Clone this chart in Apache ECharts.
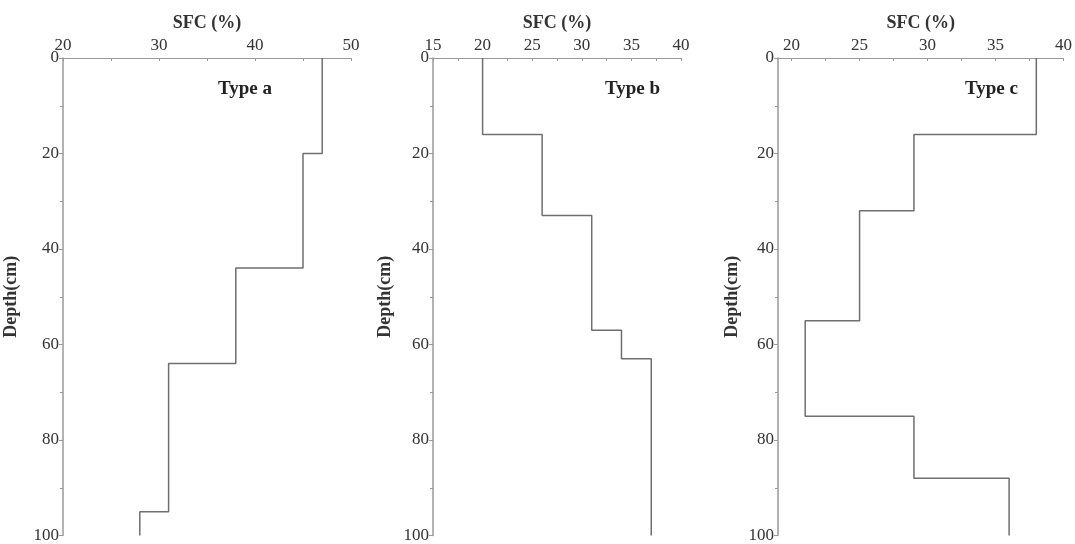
<!DOCTYPE html>
<html>
<head>
<meta charset="utf-8">
<script src="https://cdn.jsdelivr.net/npm/echarts@6/dist/echarts.min.js"></script>
<style>
  html, body { margin: 0; padding: 0; background: #fff; }
  #chart { width: 1075px; height: 544px; }
</style>
</head>
<body>
<div id="chart"></div>
<script>
// soil layers: [top depth, bottom depth] and SFC value (%) of each layer
var layersA = [[0, 20], [20, 44], [44, 64], [64, 95], [95, 100]];
var sfcA = [47, 45, 38, 31, 28];

var layersB = [[0, 16], [16, 33], [33, 57], [57, 63], [63, 100]];
var sfcB = [20, 26, 31, 34, 37];

var layersC = [[0, 16], [16, 32], [32, 55], [55, 75], [75, 88], [88, 100]];
var sfcC = [38, 29, 25, 21, 29, 36];

var panelNames = ['Type a', 'Type b', 'Type c'];
var depthTicks = [0, 20, 40, 60, 80, 100];
var xMins = [20, 15, 19];
var xMaxs = [50, 40, 40];
var xLabelVals = [[20, 30, 40, 50], [15, 20, 25, 30, 35, 40], [20, 25, 30, 35, 40]];
var xTickVals = [
    [20, 25, 30, 35, 40, 45, 50],
    [15, 17.5, 20, 22.5, 25, 27.5, 30, 32.5, 35, 37.5, 40],
    [20, 22.5, 25, 27.5, 30, 32.5, 35, 37.5, 40]
];

var font = 'Liberation Serif';
var axisColor = '#999';
var textColor = '#333';

// turn layers into a profile line (vertical segment per layer)
function profile(layers, vals) {
    var pts = [];
    for (var i = 0; i < layers.length; i++) {
        pts.push([vals[i], layers[i][0]]);
        pts.push([vals[i], layers[i][1]]);
    }
    return pts;
}

var grids = [
    { left: 63, width: 288, top: 58, bottom: 4 },
    { left: 433, width: 248, top: 58, bottom: 4 },
    { left: 778, width: 289, top: 58, bottom: 4 }
];
var typePos = [[218, 80], [605, 80], [965, 80]];
var depthNamePos = [20, 394, 741];

var xAxes = [], yAxes = [], series = [], titles = [];
var profiles = [profile(layersA, sfcA), profile(layersB, sfcB), profile(layersC, sfcC)];

for (var k = 0; k < 3; k++) {
    xAxes.push({
        type: 'value',
        gridIndex: k,
        position: 'top',
        min: xMins[k],
        max: xMaxs[k],
        name: 'SFC (%)',
        nameLocation: 'middle',
        nameGap: 26,
        nameMoveOverlap: false,
        nameTextStyle: { fontFamily: font, fontWeight: 'bold', fontSize: 18, color: textColor },
        axisLine: { show: true, lineStyle: { color: axisColor, width: 1 } },
        axisTick: { show: true, inside: true, length: 3, customValues: xTickVals[k], lineStyle: { color: axisColor } },
        axisLabel: { customValues: xLabelVals[k], fontFamily: font, fontSize: 17, color: textColor, margin: 4 },
        splitLine: { show: false }
    });
    yAxes.push({
        type: 'value',
        gridIndex: k,
        inverse: true,
        min: 0,
        max: 100,
        interval: 20,
        name: 'Depth(cm)',
        nameLocation: 'middle',
        nameGap: grids[k].left - depthNamePos[k],
        nameMoveOverlap: false,
        nameTextStyle: { fontFamily: font, fontWeight: 'bold', fontSize: 18, color: textColor },
        axisLine: { show: true, lineStyle: { color: axisColor, width: 1.5 } },
        axisTick: { show: true, length: 4, customValues: depthTicks, lineStyle: { color: axisColor } },
        minorTick: { show: true, splitNumber: 2, length: 3, lineStyle: { color: axisColor } },
        axisLabel: { customValues: depthTicks, fontFamily: font, fontSize: 17, color: textColor, margin: 4 },
        splitLine: { show: false }
    });
    series.push({
        type: 'line',
        xAxisIndex: k,
        yAxisIndex: k,
        data: profiles[k],
        showSymbol: false,
        symbol: 'none',
        lineStyle: { color: '#6f6f6f', width: 1.5 },
        animation: false
    });
    titles.push({
        text: panelNames[k],
        left: typePos[k][0],
        top: typePos[k][1],
        padding: 0,
        textStyle: { fontFamily: font, fontWeight: 'bold', fontSize: 19, color: '#222' }
    });
}

var chart = echarts.init(document.getElementById('chart'));
chart.setOption({
    backgroundColor: '#fff',
    animation: false,
    title: titles,
    grid: grids,
    xAxis: xAxes,
    yAxis: yAxes,
    series: series
});
</script>
</body>
</html>
